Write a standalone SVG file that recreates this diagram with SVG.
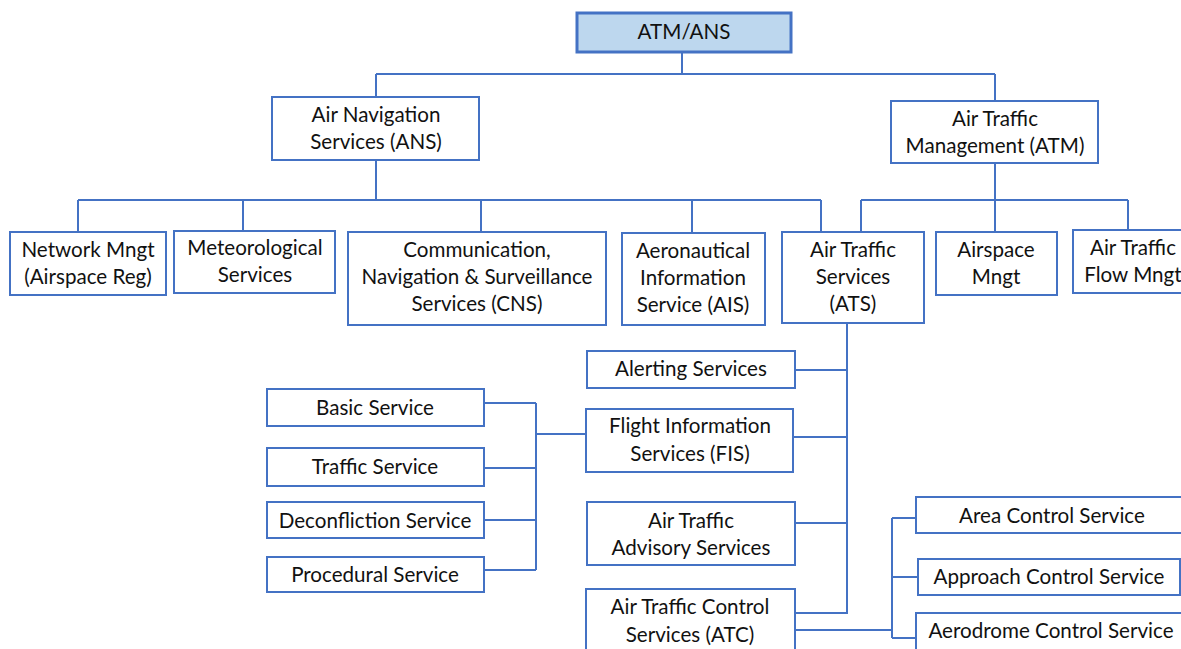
<svg xmlns="http://www.w3.org/2000/svg" width="1181" height="649" viewBox="0 0 1181 649">
<style>
.box{fill:#ffffff;stroke:#4472C4;stroke-width:2}
.top{fill:#BDD7EE;stroke:#4472C4;stroke-width:3}
.c{fill:none;stroke:#4472C4;stroke-width:2}
text{font-family:Lato,"Liberation Sans",sans-serif;font-size:20.6px;fill:#111111;text-anchor:middle}
</style>
<rect width="1181" height="649" fill="#ffffff"/>
<g id="connectors">
<path class="c" d="M682 52V74M376 74H995M376 74V97M995 74V101"/>
<path class="c" d="M376 160V200M78 200H821M78 200V232M243 200V231M481 200V232M692 200V233M821 200V232"/>
<path class="c" d="M995 163V232M861 200H1128M861 200V232M1128 200V230"/>
<path class="c" d="M847 323V613M795 370H848M793 437H848M795 523H848M795 613H848"/>
<path class="c" d="M484 403H536M484 468H536M484 520H536M484 570H536M536 403V570M536 434H586"/>
<path class="c" d="M795 630H892M892 518V638M892 518H916M892 577H918M892 638H916"/>
</g>
<g id="atmans"><rect class="top" x="577" y="13" width="214" height="39"/><text x="684" y="39">ATM/ANS</text></g>
<g id="ans"><rect class="box" x="272" y="97" width="207" height="63"/><text x="376" y="122">Air Navigation</text><text x="376" y="149">Services (ANS)</text></g>
<g id="atm"><rect class="box" x="891" y="101" width="207" height="62"/><text x="995" y="126">Air Traffic</text><text x="995" y="153">Management (ATM)</text></g>
<g id="network"><rect class="box" x="10" y="232" width="156" height="63"/><text x="88" y="257">Network Mngt</text><text x="88" y="284">(Airspace Reg)</text></g>
<g id="met"><rect class="box" x="174" y="231" width="161" height="62"/><text x="255" y="255">Meteorological</text><text x="255" y="282">Services</text></g>
<g id="cns"><rect class="box" x="348" y="232" width="258" height="93"/><text x="477" y="257">Communication,</text><text x="477" y="284">Navigation &amp; Surveillance</text><text x="477" y="311">Services (CNS)</text></g>
<g id="ais"><rect class="box" x="622" y="233" width="143" height="92"/><text x="693" y="258">Aeronautical</text><text x="693" y="285">Information</text><text x="693" y="312">Service (AIS)</text></g>
<g id="ats"><rect class="box" x="782" y="232" width="142" height="91"/><text x="853" y="257">Air Traffic</text><text x="853" y="284">Services</text><text x="853" y="311">(ATS)</text></g>
<g id="airspace"><rect class="box" x="936" y="232" width="121" height="63"/><text x="996" y="257">Airspace</text><text x="996" y="284">Mngt</text></g>
<g id="atfm"><rect class="box" x="1073" y="230" width="120" height="63"/><text x="1133" y="255">Air Traffic</text><text x="1133" y="282">Flow Mngt</text></g>
<g id="alerting"><rect class="box" x="587" y="351" width="208" height="37"/><text x="691" y="376">Alerting Services</text></g>
<g id="fis"><rect class="box" x="586" y="409" width="207" height="63"/><text x="690" y="433">Flight Information</text><text x="690" y="461">Services (FIS)</text></g>
<g id="basic"><rect class="box" x="267" y="389" width="217" height="37"/><text x="375" y="415">Basic Service</text></g>
<g id="traffic"><rect class="box" x="267" y="448" width="217" height="38"/><text x="375" y="474">Traffic Service</text></g>
<g id="deconfliction"><rect class="box" x="267" y="502" width="217" height="36"/><text x="375" y="528">Deconfliction Service</text></g>
<g id="procedural"><rect class="box" x="267" y="557" width="217" height="35"/><text x="375" y="582">Procedural Service</text></g>
<g id="advisory"><rect class="box" x="587" y="502" width="208" height="63"/><text x="691" y="528">Air Traffic</text><text x="691" y="555">Advisory Services</text></g>
<g id="atc"><rect class="box" x="586" y="589" width="209" height="70"/><text x="690" y="614">Air Traffic Control</text><text x="690" y="642">Services (ATC)</text></g>
<g id="area"><rect class="box" x="916" y="497" width="272" height="36"/><text x="1052" y="523">Area Control Service</text></g>
<g id="approach"><rect class="box" x="918" y="559" width="262" height="36"/><text x="1049" y="584">Approach Control Service</text></g>
<g id="aerodrome"><rect class="box" x="916" y="613" width="272" height="46"/><text x="1051" y="638">Aerodrome Control Service</text></g>
</svg>
